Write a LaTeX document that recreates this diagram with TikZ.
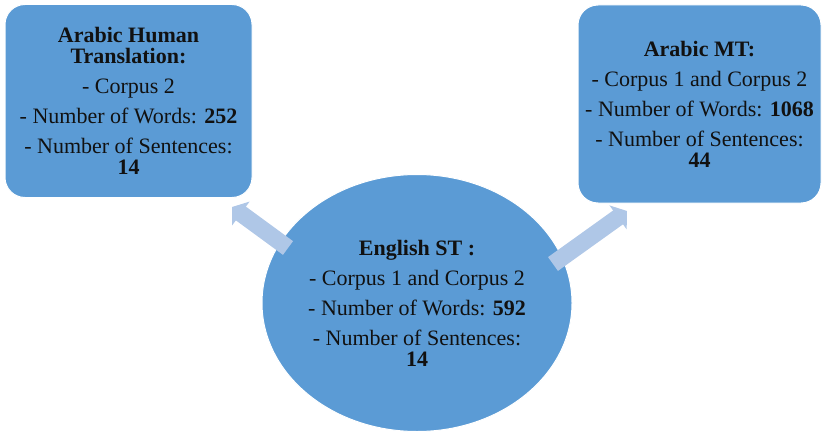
\documentclass[tikz,border=0pt]{standalone}
\usepackage{fontspec}
\setmainfont{Liberation Serif}
\usetikzlibrary{shapes.geometric,arrows.meta}
\definecolor{boxblue}{HTML}{5B9BD5}
\definecolor{arrowblue}{HTML}{AFC7E7}
\definecolor{txt}{HTML}{111111}
\tikzset{
  infobox/.style={rectangle, rounded corners=20pt, fill=boxblue, draw=white, line width=1pt,
    inner sep=0pt, align=center, text=txt, font=\fontsize{22}{21}\selectfont},
  infoellipse/.style={ellipse, fill=boxblue, draw=white, line width=1pt,
    inner sep=0pt, align=center, text=txt, font=\fontsize{22}{21}\selectfont},
  blockarrow/.style={draw=arrowblue, line width=17pt,
    -{Triangle[length=11pt,width=29pt]}}
}
\begin{document}
\begin{tikzpicture}[x=1pt,y=-1pt]
\useasboundingbox (0,0) rectangle (826,433);
\node[infobox, minimum width=247pt, minimum height=193pt] (ht) at (128.5,101)
 {\textbf{Arabic Human}\\\textbf{Translation:}\\[9pt]- Corpus 2\\[9pt]- Number of Words: \textbf{252}\\[9pt]- Number of Sentences:\\\textbf{14}};
\node[infobox, minimum width=243pt, minimum height=198pt] (mt) at (699.5,104)
 {\textbf{Arabic MT:}\\[9pt]- Corpus 1 and Corpus 2\\[9pt]- Number of Words: \textbf{1068}\\[9pt]- Number of Sentences:\\\textbf{44}};
\node[infoellipse, minimum width=310pt, minimum height=257pt] (st) at (417,303)
 {\textbf{English ST :}\\[9pt]- Corpus 1 and Corpus 2\\[9pt]- Number of Words: \textbf{592}\\[9pt]- Number of Sentences:\\\textbf{14}};
\coordinate (lt) at (288,248);
\coordinate (lh) at (232,207);
\coordinate (rt) at (553,264);
\coordinate (rh) at (627,211);
\draw[blockarrow] (lt) -- (lh);
\draw[blockarrow] (rt) -- (rh);
\end{tikzpicture}
\end{document}
